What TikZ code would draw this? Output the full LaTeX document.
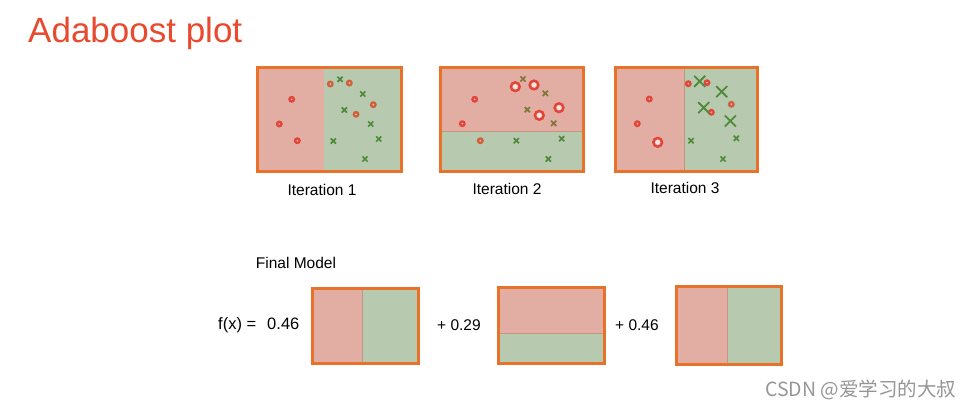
\documentclass[tikz,border=0pt]{standalone}
\usepackage{fontspec}
\setmainfont{Liberation Sans}
\newfontfamily\cjk{Noto Sans CJK SC}
\definecolor{titlered}{RGB}{232,74,48}
\definecolor{pinkfill}{RGB}{226,174,164}
\definecolor{greenfill}{RGB}{183,202,175}
\definecolor{frameor}{RGB}{233,114,42}
\definecolor{divline}{RGB}{196,150,128}
\definecolor{dotred}{RGB}{226,68,56}
\definecolor{dotbrown}{RGB}{208,96,60}
\definecolor{xgreen}{RGB}{78,138,58}
\definecolor{xolive}{RGB}{128,118,60}
\definecolor{wmgray}{RGB}{150,150,150}
\tikzset{
  frame/.style={draw=frameor, line width=3pt},
  redpart/.style={fill=pinkfill},
  greenpart/.style={fill=greenfill},
  split/.style={draw=divline, line width=0.8pt},
  lbl/.style={font=\fontsize{15.5}{18}\selectfont, inner sep=0pt, anchor=center},
}
\newcommand{\reddot}[3][dotred]{\fill[#1] (#2,#3) circle (3.5pt); \fill[white!60!#1] (#2,#3) circle (1.0pt);}
\newcommand{\redring}[2]{\fill[white!85!dotred] (#1,#2) circle (2.5pt); \draw[dotred, line width=2.4pt] (#1,#2) circle (4.4pt);}
\newcommand{\smallx}[3][xgreen]{\draw[#1, line width=1.7pt] (#2-2.6,#3-2.6) -- (#2+2.6,#3+2.6) (#2-2.6,#3+2.6) -- (#2+2.6,#3-2.6);}
\newcommand{\bigx}[2]{\draw[xgreen, line width=1.8pt] (#1-5.5,#2-5.5) -- (#1+5.5,#2+5.5) (#1-5.5,#2+5.5) -- (#1+5.5,#2-5.5);}
\begin{document}
\begin{tikzpicture}[x=1pt,y=-1pt]
\useasboundingbox (0,0) rectangle (973,410);
\fill[white] (0,0) rectangle (973,410);
% title
\node[anchor=west, text=titlered, font=\fontsize{35}{40}\selectfont, inner sep=0pt] (title) at (28,33) {Adaboost plot};

% ---------- Iteration 1 ----------
\fill[redpart] (257,67) rectangle (324,171);
\fill[greenpart] (324,67) rectangle (401,171);
\draw[frame] (257,67) rectangle (401,171);
\reddot{291.7}{99.3} \reddot{279.3}{124} \reddot{297.3}{140.7}
\reddot[dotbrown]{330.3}{84} \reddot[dotbrown]{349.3}{83} \reddot[dotbrown]{373.3}{104.7} \reddot[dotbrown]{356}{114.3}
\smallx{340}{79.3} \smallx{362.7}{94} \smallx{344.3}{110} \smallx{370.7}{124} \smallx{378.7}{139} \smallx{333.3}{141} \smallx{365}{159}
\node[lbl] (it1) at (322,190) {Iteration 1};

% ---------- Iteration 2 ----------
\fill[redpart] (440,67) rectangle (583,131);
\fill[greenpart] (440,131) rectangle (583,171);
\draw[split] (440,131) -- (583,131);
\draw[frame] (440,67) rectangle (583,171);
\redring{515.3}{86.7} \redring{534}{85} \redring{539.3}{115.3} \redring{559}{107.7}
\reddot{474.7}{99.3} \reddot{462.3}{123.7} \reddot[dotbrown]{480.3}{140.7}
\smallx[xolive]{523}{79} \smallx[xolive]{545.3}{93.3} \smallx[xolive]{527.3}{109.7} \smallx[xolive]{553.7}{123.3}
\smallx{516.3}{140.7} \smallx{561.7}{138.7} \smallx{548.3}{159}
\node[lbl] (it2) at (507,189) {Iteration 2};

% ---------- Iteration 3 ----------
\fill[redpart] (615,67) rectangle (684,171);
\fill[greenpart] (684,67) rectangle (757,171);
\draw[split] (684,67) -- (684,171);
\draw[frame] (615,67) rectangle (757,171);
\reddot{649.3}{99} \reddot{637.3}{123.7}
\reddot{688.3}{83.7} \reddot{707}{82.7} \reddot[dotbrown]{731.3}{104.3} \reddot{711.3}{112.3}
\redring{657.7}{142.3}
\bigx{699.7}{81.3} \bigx{721.7}{91.7} \bigx{703.7}{107.7} \bigx{730.3}{121}
\smallx{691}{140.7} \smallx{736.3}{138.3} \smallx{723}{159}
\node[lbl] (it3) at (685,188) {Iteration 3};

% ---------- Final model ----------
\node[lbl] (final) at (296,263) {Final Model};
\node[lbl, anchor=west, font=\fontsize{16.5}{19}\selectfont] (fx) at (218,325) {f(x) =\hspace{11pt}0.46};
\fill[redpart] (312,288) rectangle (362,363);
\fill[greenpart] (362,288) rectangle (418,363);
\draw[split] (362,288) -- (362,363);
\draw[frame] (312,288) rectangle (418,363);

\node[lbl, anchor=west] (w2) at (437,325) {+ 0.29};
\fill[redpart] (498,287) rectangle (604,333);
\fill[greenpart] (498,333) rectangle (604,363);
\draw[split] (498,333) -- (604,333);
\draw[frame] (498,287) rectangle (604,363);

\node[lbl, anchor=west] (w3) at (615,325) {+ 0.46};
\fill[redpart] (676,286) rectangle (727,364);
\fill[greenpart] (727,286) rectangle (781,364);
\draw[split] (727,286) -- (727,364);
\draw[frame] (676,286) rectangle (781,364);

% watermark
\node[anchor=west, text=wmgray, font=\cjk\fontsize{19.5}{22}\selectfont, inner sep=0pt] (wm) at (765,390) {CSDN @爱学习的大叔};
\end{tikzpicture}
\end{document}
